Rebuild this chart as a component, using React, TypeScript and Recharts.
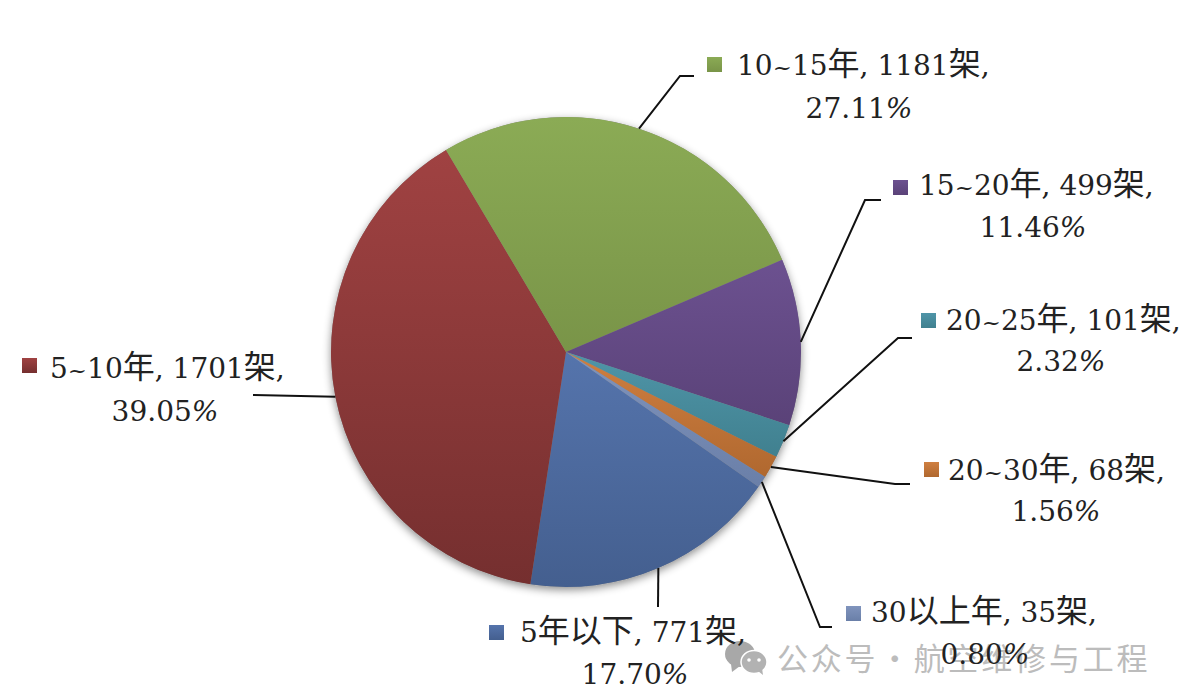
import React from 'react';
import { Cell, Pie, PieChart } from 'recharts';

const categories = ['5年以下', '5~10年', '10~15年', '15~20年', '20~25年', '20~30年', '30以上年'];
const counts = [771, 1701, 1181, 499, 101, 68, 35];
const percents = ['17.70%', '39.05%', '27.11%', '11.46%', '2.32%', '1.56%', '0.80%'];
const topColors = ['#5574ac', '#a04242', '#8bab55', '#6c5190', '#4f95a8', '#cf7f41', '#8094bd'];
const bottomColors = ['#445f8f', '#752f2f', '#799448', '#5a4278', '#40808f', '#b0682f', '#6a7fa8'];

// hand placed label boxes: swatch corner, first line start, second line centre, baselines, leader bends
const labelLayout = [
  { sx: 489, sy: 625, tx: 520, ty: 642, cx: 635, cy: 684, bends: [[658, 607]] },
  { sx: 22, sy: 358, tx: 50, ty: 378, cx: 165, cy: 421, bends: [[253, 395]] },
  { sx: 707, sy: 57, tx: 737, ty: 75, cx: 859, cy: 118, bends: [[680, 76], [694, 76]] },
  { sx: 893, sy: 180, tx: 919, ty: 195, cx: 1033, cy: 237, bends: [[865, 200], [881, 200]] },
  { sx: 921, sy: 313, tx: 946, ty: 330, cx: 1061, cy: 371, bends: [[898, 338], [912, 338]] },
  { sx: 924, sy: 462, tx: 948, ty: 480, cx: 1056, cy: 521, bends: [[895, 484], [910, 484]] },
  { sx: 846, sy: 606, tx: 871, ty: 622, cx: 985, cy: 664, bends: [[820, 627], [832, 627]] },
];

const chartData = categories.map((name, i) => ({ name, value: counts[i] }));
const total = counts.reduce((a, b) => a + b, 0);
const FONT = '"DejaVu Serif", "Noto Sans CJK SC", serif';

// the CJK glyphs run larger than the digits in the source, and the tilde smaller
function sizedRuns(text: string) {
  return text.split(/([\u4e00-\u9fff]+|~)/).filter(Boolean).map((run, i) => {
    const size = run === '~' ? 23 : /[\u4e00-\u9fff]/.test(run) ? 32 : 28;
    return (
      <tspan key={i} fontSize={size}>
        {run}
      </tspan>
    );
  });
}

function SliceLabel(props: any) {
  const { cx, cy, midAngle, outerRadius, index } = props;
  const box = labelLayout[index];
  const rad = (-midAngle * Math.PI) / 180;
  const start = [cx + outerRadius * Math.cos(rad), cy + outerRadius * Math.sin(rad)];
  const pts = [start, ...box.bends].map((p) => p.join(',')).join(' ');
  const pct = percents[index];
  return (
    <g>
      <polyline points={pts} fill="none" stroke="#111" strokeWidth={2} />
      <rect x={box.sx} y={box.sy} width={15} height={15} fill={`url(#slice${index})`} />
      <text x={box.tx} y={box.ty} fontFamily={FONT} fontSize={28} fill="#222">
        {sizedRuns(`${categories[index]}, ${counts[index]}架,`)}
      </text>
      <text x={box.cx} y={box.cy} textAnchor="middle" fontFamily={FONT} fontSize={28} fill="#222">
        {pct.slice(0, -1)}
        <tspan fontStyle="italic">%</tspan>
      </text>
    </g>
  );
}

export default function App() {
  return (
    <div style={{ position: 'absolute', left: 0, top: 0, width: 1185, height: 699, background: '#fff', overflow: 'hidden' }}>
      {/* wechat watermark, sits under the chart's labels */}
      <div style={{ position: 'absolute', left: 723, top: 634, display: 'flex', alignItems: 'center', pointerEvents: 'none' }}>
        <svg width={46} height={36} viewBox="0 0 46 36">
          <ellipse cx={17} cy={15} rx={15} ry={13} fill="#a8a8a8" />
          <path d="M8 25 L9 33 L17 27 Z" fill="#a8a8a8" />
          <ellipse cx={31} cy={23} rx={13} ry={11.5} fill="#b2b2b2" stroke="#fff" strokeWidth={1.5} />
          <path d="M35 32 L40 36 L39 29 Z" fill="#b2b2b2" />
          <circle cx={26} cy={21} r={1.8} fill="#fff" />
          <circle cx={36} cy={21} r={1.8} fill="#fff" />
        </svg>
        <span style={{ marginLeft: 8, fontFamily: '"Noto Sans CJK SC", sans-serif', fontSize: 31, letterSpacing: 2.8, wordSpacing: -9, color: '#bcbcbc', whiteSpace: 'nowrap' }}>
          公众号 · 航空维修与工程
        </span>
      </div>
      <PieChart width={1185} height={699} margin={{ top: 0, right: 0, bottom: 0, left: 0 }} style={{ position: 'absolute', left: 0, top: 0 }}>
        <defs>
          {topColors.map((c, i) => (
            <linearGradient key={c} id={`slice${i}`} x1="0" y1="0" x2="0" y2="1">
              <stop offset="0%" stopColor={c} />
              <stop offset="100%" stopColor={bottomColors[i]} />
            </linearGradient>
          ))}
          <filter id="pieShadow" x="-10%" y="-10%" width="120%" height="120%">
            <feDropShadow dx="0" dy="3" stdDeviation="4" floodColor="#000" floodOpacity="0.45" />
          </filter>
        </defs>
        {/* plain disc underneath, only there to carry the shadow */}
        <Pie
          data={[{ name: 'all', value: total }]}
          dataKey="value"
          cx={566}
          cy={352}
          outerRadius={235}
          stroke="none"
          fill="#888"
          filter="url(#pieShadow)"
          isAnimationActive={false}
          legendType="none"
        />
        <Pie
          data={chartData}
          dataKey="value"
          cx={566}
          cy={352}
          outerRadius={235}
          startAngle={-35}
          endAngle={-395}
          stroke="none"
          label={SliceLabel}
          labelLine={false}
          isAnimationActive={false}
        >
          {chartData.map((d, i) => (
            <Cell key={d.name} fill={`url(#slice${i})`} />
          ))}
        </Pie>
      </PieChart>
    </div>
  );
}
